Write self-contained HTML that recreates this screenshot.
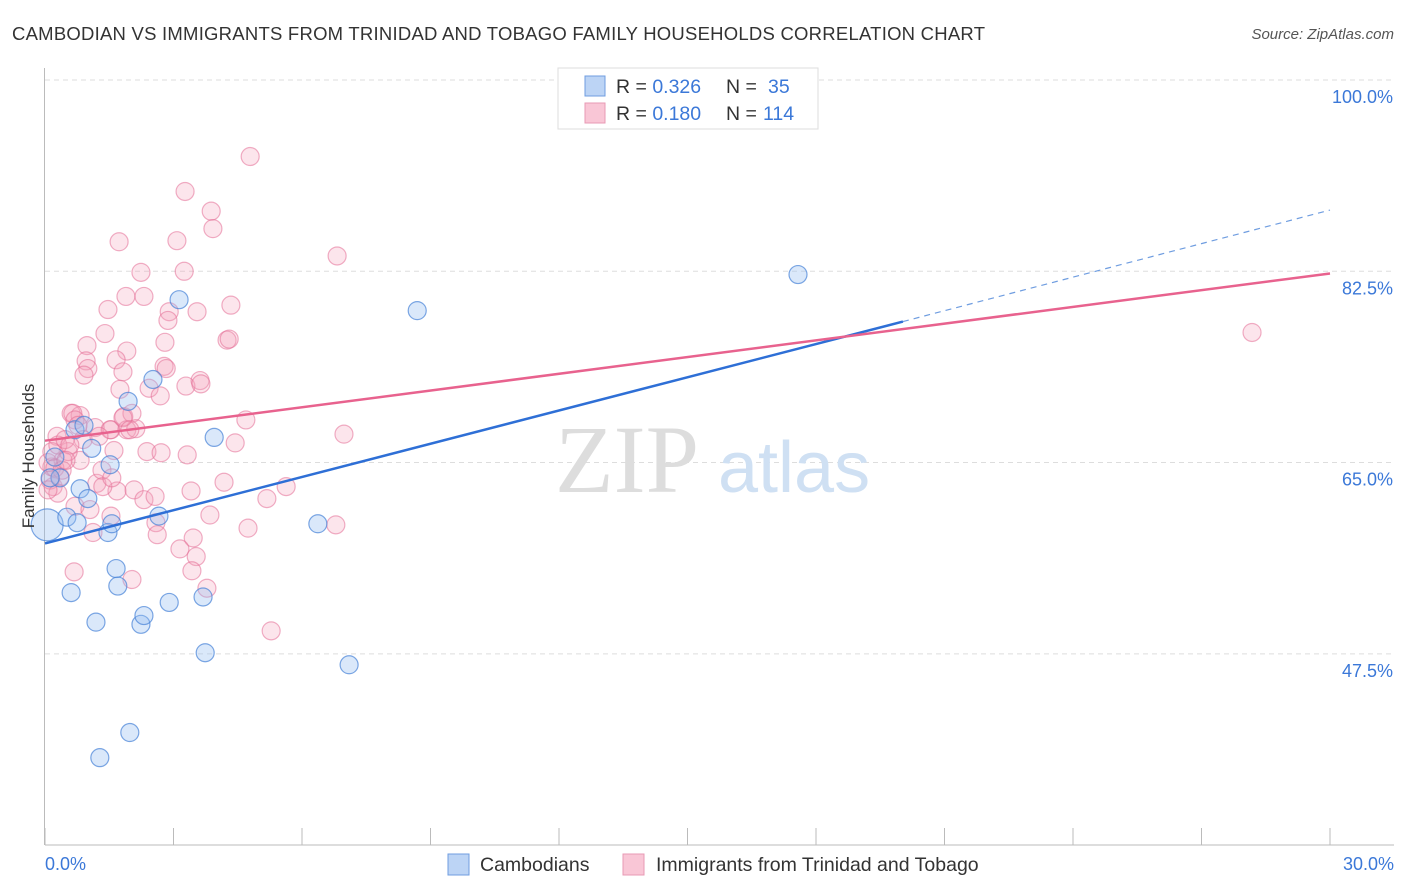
<!DOCTYPE html>
<html><head><meta charset="utf-8"><style>
body{margin:0;background:#fff;font-family:"Liberation Sans",sans-serif}
svg{display:block}
</style></head><body>
<svg id="chart" width="1406" height="892">
<text x="12" y="40" font-size="18.5" fill="#333" textLength="973">CAMBODIAN VS IMMIGRANTS FROM TRINIDAD AND TOBAGO FAMILY HOUSEHOLDS CORRELATION CHART</text>
<text x="1394" y="39" font-size="15" fill="#555" font-style="italic" text-anchor="end">Source: ZipAtlas.com</text>
<g id="grid"></g>
<text x="555" y="492" font-size="96" fill="#ddd" font-family="Liberation Serif,serif">ZIP</text>
<text x="718" y="492" font-size="72" fill="#cfe0f3">atlas</text>
<g id="marks"></g>
<text x="34" y="456" font-size="17" fill="#333" text-anchor="middle" transform="rotate(-90 34 456)">Family Households</text>
<text x="45" y="870" font-size="18" fill="#3b78d8">0.0%</text>
<text x="1394" y="870" font-size="18" fill="#3b78d8" text-anchor="end">30.0%</text>
<g>
<rect x="558" y="68" width="260" height="61" fill="#fff" stroke="#ddd"/>
<rect x="585" y="76" width="20" height="20" fill="#bcd4f5" stroke="#6f9de0"/>
<rect x="585" y="103" width="20" height="20" fill="#f9c6d6" stroke="#e89ab4"/>
<text x="616" y="93" font-size="19.5" fill="#333">R = <tspan fill="#3b78d8">0.326</tspan><tspan x="726">N = </tspan><tspan x="768" fill="#3b78d8">35</tspan></text>
<text x="616" y="120" font-size="19.5" fill="#333">R = <tspan fill="#3b78d8">0.180</tspan><tspan x="726">N = </tspan><tspan x="763" fill="#3b78d8">114</tspan></text>
</g>
<g>
<rect x="448" y="854" width="21" height="21" fill="#bcd4f5" stroke="#6f9de0"/>
<text x="480" y="871" font-size="19.5" fill="#333">Cambodians</text>
<rect x="623" y="854" width="21" height="21" fill="#f9c6d6" stroke="#e89ab4"/>
<text x="656" y="871" font-size="19.5" fill="#333">Immigrants from Trinidad and Tobago</text>
</g>
</svg>
<script>
const yTicks=[100,82.5,65,47.5];
const yTickLabels=["100.0%","82.5%","65.0%","47.5%"];
const xTicks=[0,3,6,9,12,15,18,21,24,27,30];
const blueX=[0.05,0.23,0.35,0.51,0.61,0.70,0.82,0.91,1.00,1.09,1.19,0.75,1.47,1.52,1.56,1.66,1.70,1.94,1.98,2.24,2.31,2.52,2.66,2.90,3.13,3.69,3.74,3.95,6.37,7.10,8.69,17.58,1.28,0.12];
const blueY=[59.3,65.5,63.6,60.0,53.1,68.0,62.6,68.4,61.7,66.3,50.4,59.5,58.6,64.8,59.4,55.3,53.7,70.6,40.3,50.2,51.0,72.6,60.1,52.2,79.9,52.7,47.6,67.3,59.4,46.5,78.9,82.2,38.0,63.6];
const pinkX=[4.79,3.27,3.88,3.92,1.73,3.08,6.82,2.24,3.25,1.89,2.31,1.47,2.90,2.87,3.55,4.34,1.40,2.80,4.25,4.30,0.98,1.91,1.66,0.96,1.00,0.91,1.82,2.78,2.83,1.75,2.43,3.29,3.62,3.64,2.69,4.69,6.98,4.44,0.61,0.82,1.84,2.03,1.54,1.91,2.12,2.38,2.71,3.32,0.28,1.17,1.61,0.82,3.41,4.18,1.68,2.08,2.31,2.57,5.18,5.63,3.85,4.74,6.79,2.59,2.62,1.21,1.35,0.70,1.05,1.54,1.12,3.46,3.15,3.53,3.43,0.68,2.03,3.78,5.28,0.19,0.35,0.12,0.16,0.42,0.30,0.54,0.89,0.65,1.82,1.52,1.98,28.18,0.07,0.16,0.30,0.47,0.58,0.07,0.23,0.40,0.49,0.70,0.77,1.26,1.33,1.56];
const pinkY=[93.0,89.8,88.0,86.4,85.2,85.3,83.9,82.4,82.5,80.2,80.2,79.0,78.8,78.0,78.8,79.4,76.8,76.0,76.2,76.3,75.7,75.2,74.4,74.3,73.6,73.0,73.3,73.8,73.6,71.7,71.8,72.0,72.5,72.2,71.1,68.9,67.6,66.8,69.5,69.3,69.2,69.5,68.0,68.0,68.1,66.0,65.9,65.7,67.4,68.2,66.1,65.2,62.4,63.2,62.4,62.5,61.6,61.9,61.7,62.8,60.2,59.0,59.3,59.5,58.4,63.1,62.8,61.0,60.7,60.1,58.6,58.1,57.1,56.4,55.1,55.0,54.3,53.5,49.6,62.8,63.7,63.4,64.6,65.2,62.2,66.0,67.1,69.5,69.1,68.0,68.0,76.9,65.0,66.0,66.6,67.1,66.6,62.5,64.5,64.3,65.2,68.9,68.4,67.4,64.3,63.6];
const blueTrend=[57.6,77.9,88.1];
const pinkTrend=[67.0,82.3];
const X0=45,X1=1330,Y100=80,PX=10.93;
function sx(v){return X0+(v/30)*(X1-X0);}
function sy(v){return Y100+(100-v)*PX;}
const NS="http://www.w3.org/2000/svg";
function mk(t,a,p){const e=document.createElementNS(NS,t);for(const k in a)e.setAttribute(k,a[k]);p.appendChild(e);return e;}
const grid=document.getElementById('grid'),marks=document.getElementById('marks');
yTicks.forEach((t,i)=>{
 const l=mk('line',{x1:45,x2:1394,y1:sy(t),y2:sy(t),stroke:'#ddd','stroke-dasharray':'5,4'},grid);
 
 
 const tx=mk('text',{x:1393,y:sy(t)+23,'font-size':18,fill:'#3b78d8','text-anchor':'end'},grid);
 tx.textContent=yTickLabels[i];
 
 
});
const ax=mk('line',{x1:45,x2:1394,y1:845,y2:845,stroke:'#bbb'},grid);


const ay=mk('line',{x1:44.5,x2:44.5,y1:68,y2:845,stroke:'#bbb'},grid);


xTicks.forEach(t=>{
 const l=mk('line',{x1:sx(t),x2:sx(t),y1:828,y2:845,stroke:'#bbb'},grid);
 
 
});
pinkX.forEach((v,i)=>{
 const c=mk('circle',{cx:sx(v),cy:sy(pinkY[i]),r:9,fill:'rgba(244,160,188,0.28)',stroke:'rgba(228,110,150,0.55)','stroke-width':1.2},marks);
 
 
});
blueX.forEach((v,i)=>{
 const c=mk('circle',{cx:sx(v),cy:sy(blueY[i]),r:i===0?16:9,fill:'rgba(150,190,240,0.35)',stroke:'rgba(70,130,215,0.7)','stroke-width':1.2},marks);
 
 
});
const bl=mk('line',{x1:sx(0),y1:sy(blueTrend[0]),x2:sx(20.03),y2:sy(blueTrend[1]),stroke:'#2e6fd6','stroke-width':2.5},marks);


const bd=mk('line',{x1:sx(20.03),y1:sy(blueTrend[1]),x2:sx(30),y2:sy(blueTrend[2]),stroke:'#6f9de0','stroke-width':1.2,'stroke-dasharray':'6,5'},marks);


const pl=mk('line',{x1:sx(0),y1:sy(pinkTrend[0]),x2:sx(30),y2:sy(pinkTrend[1]),stroke:'#e8628e','stroke-width':2.5},marks);


</script>
</body></html>
